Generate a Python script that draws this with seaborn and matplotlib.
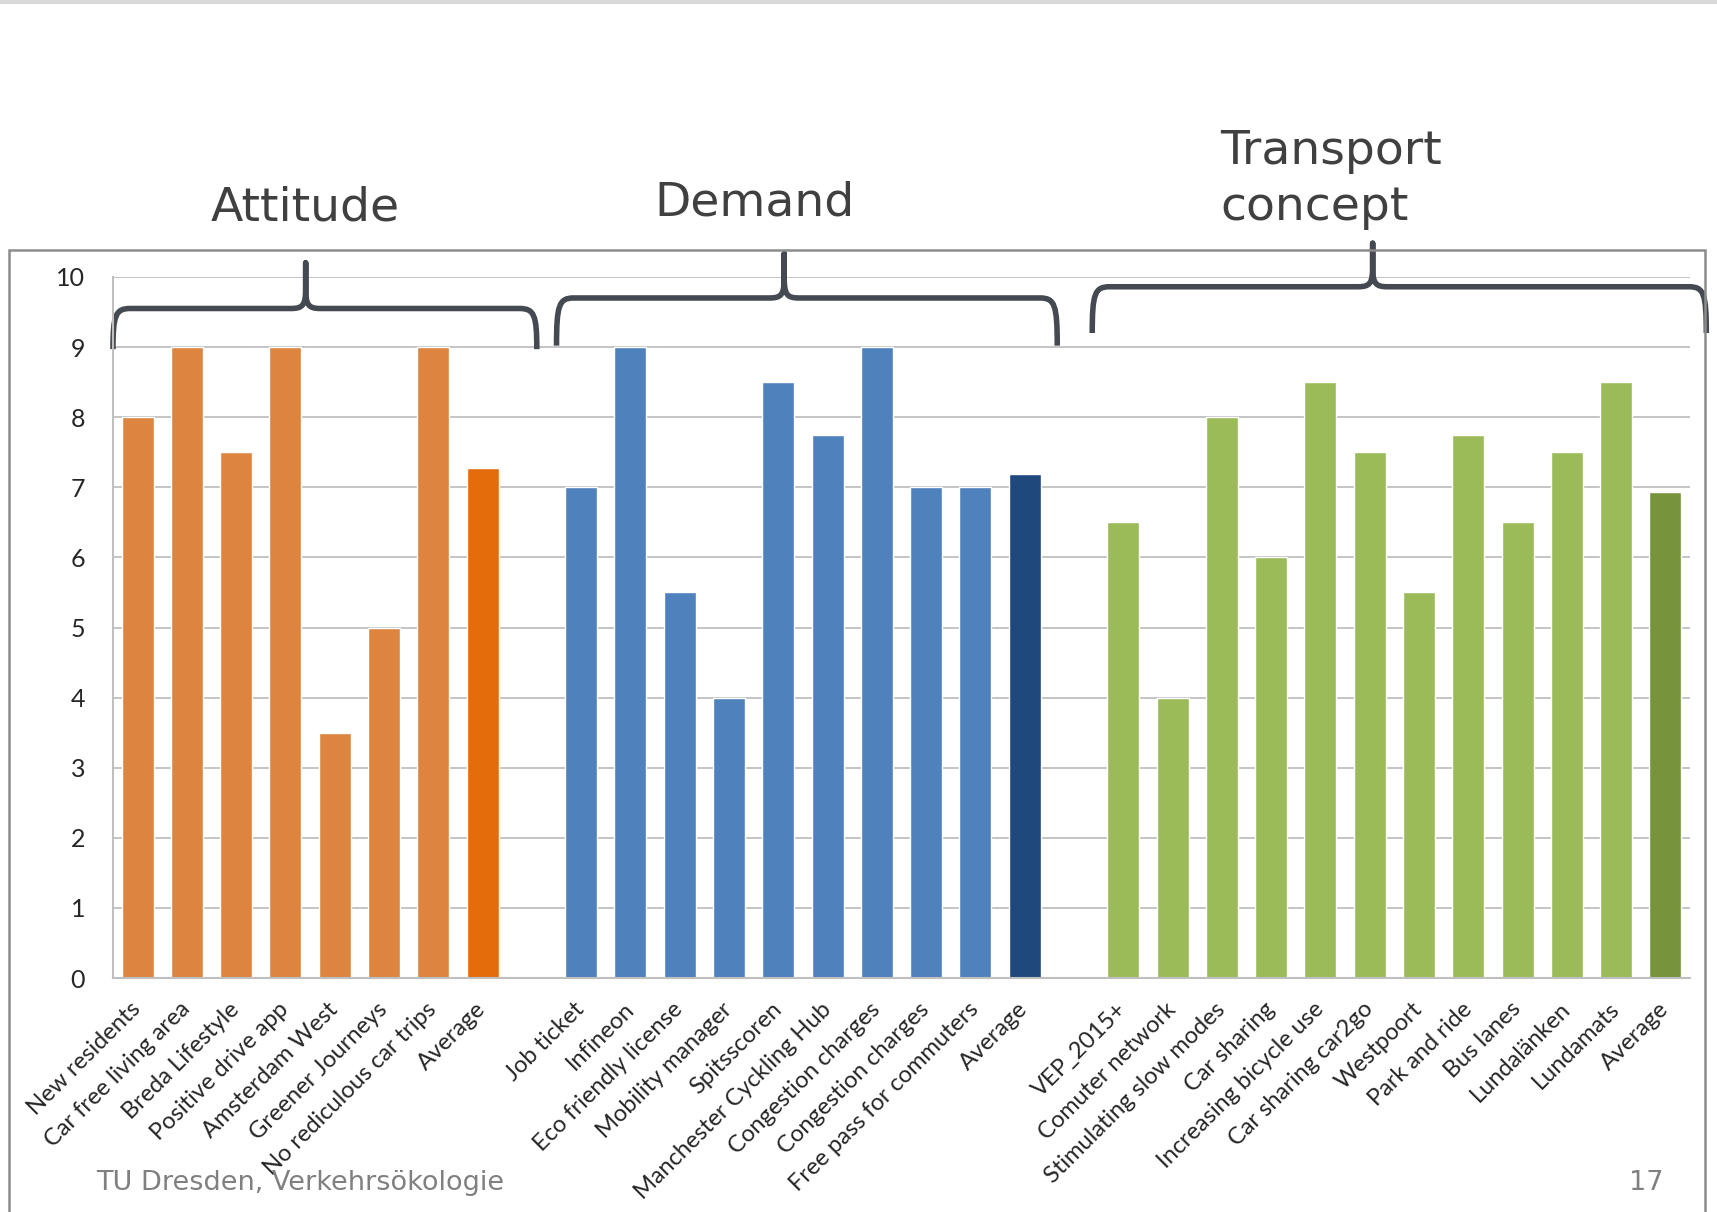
import pandas as pd
import matplotlib.pyplot as plt
import seaborn as sns
from matplotlib.path import Path
from matplotlib.patches import PathPatch, Rectangle

attitude_labels = ['New residents', 'Car free living area', 'Breda Lifestyle', 'Positive drive app',
                   'Amsterdam West', 'Greener Journeys', 'No rediculous car trips', 'Average']
attitude_values = [8, 9, 7.5, 9, 3.5, 5, 9, 7.28]

demand_labels = ['Job ticket', 'Infineon', 'Eco friendly license', 'Mobility manager', 'Spitsscoren',
                 'Manchester Cyckling Hub', 'Congestion charges', 'Congestion charges',
                 'Free pass for commuters', 'Average']
demand_values = [7, 9, 5.5, 4, 8.5, 7.75, 9, 7, 7, 7.19]

transport_labels = ['VEP_2015+', 'Comuter network', 'Stimulating slow modes', 'Car sharing',
                    'Increasing bicycle use', 'Car sharing car2go', 'Westpoort', 'Park and ride',
                    'Bus lanes', 'Lundalänken', 'Lundamats', 'Average']
transport_values = [6.5, 4, 8, 6, 8.5, 7.5, 5.5, 7.75, 6.5, 7.5, 8.5, 6.93]

group_names = ['Attitude', 'Demand', 'Transport\nconcept']
group_colors = ['#DD843F', '#4F81BD', '#9BBB59']
average_colors = ['#E46C0A', '#1F497D', '#77933C']

# build one table, with an empty slot between groups
rows = []
order = []
tick_labels = []
groups = [(attitude_labels, attitude_values), (demand_labels, demand_values),
          (transport_labels, transport_values)]
palette = {}
for g, (labels, values) in enumerate(groups):
    if g > 0:
        order.append('gap%d' % g)
        tick_labels.append('')
    for i, (lab, val) in enumerate(zip(labels, values)):
        key = 'g%d_%d' % (g, i)
        rows.append({'key': key, 'value': val})
        order.append(key)
        tick_labels.append(lab)
        palette[key] = average_colors[g] if lab == 'Average' else group_colors[g]
df = pd.DataFrame(rows)

sns.set_style('white')
plt.rcParams['font.family'] = ['DejaVu Sans']

fig = plt.figure(figsize=(17.17, 12.12), dpi=100)
ax = fig.add_axes([0.0658, 0.193, 0.9185, 0.5785])

sns.barplot(data=df, x='key', y='value', hue='key', order=order, hue_order=list(palette.keys()),
            palette=palette, width=0.65, legend=False, ax=ax, saturation=1)

ax.set_ylim(0, 10)
ax.set_xlim(-0.5, len(order) - 0.5)
ax.set_yticks(range(0, 11))
ax.yaxis.grid(True, color='#BFBFBF', linewidth=1.3)
ax.set_axisbelow(True)
for s in ['top', 'right']:
    ax.spines[s].set_visible(False)
for s in ['left', 'bottom']:
    ax.spines[s].set_color('#BFBFBF')
    ax.spines[s].set_linewidth(1.5)
ax.tick_params(axis='both', length=0)
ax.tick_params(axis='y', pad=20)
ax.set_xticks(range(len(order)))
ax.set_xticklabels(tick_labels, rotation=45, ha='right', va='center', rotation_mode='anchor',
                   fontsize=17, family='Lato')
ax.tick_params(axis='x', pad=20)
for t in ax.get_yticklabels():
    t.set_fontsize(18)
    t.set_family('Lato')
ax.set_xlabel('')
ax.set_ylabel('')


def brace(x0, x1, xm, y_end, y_bar, y_peak):
    r = 0.35
    verts = [(x0, y_end), (x0, y_bar - 0.1), (x0 + 0.05, y_bar), (x0 + r, y_bar),
             (xm - 0.3, y_bar),
             (xm - 0.05, y_bar), (xm, y_bar + 0.05), (xm, y_bar + 0.3),
             (xm, y_peak), (xm, y_bar + 0.3),
             (xm, y_bar + 0.05), (xm + 0.05, y_bar), (xm + 0.3, y_bar),
             (x1 - r, y_bar),
             (x1 - 0.05, y_bar), (x1, y_bar - 0.1), (x1, y_end)]
    codes = [Path.MOVETO, Path.CURVE4, Path.CURVE4, Path.CURVE4,
             Path.LINETO,
             Path.CURVE4, Path.CURVE4, Path.CURVE4,
             Path.LINETO, Path.LINETO,
             Path.CURVE4, Path.CURVE4, Path.CURVE4,
             Path.LINETO,
             Path.CURVE4, Path.CURVE4, Path.CURVE4]
    ax.add_patch(PathPatch(Path(verts, codes), fill=False, edgecolor='#454A52', linewidth=4,
                           clip_on=False, capstyle='butt', joinstyle='round'))


brace(-0.5, 8.1, 3.41, 8.97, 9.55, 10.2)
brace(8.5, 18.66, 13.12, 9.02, 9.7, 10.33)
brace(19.37, 31.83, 25.06, 9.2, 9.86, 10.48)

title_kw = dict(fontsize=34, color='#404040', clip_on=False)
ax.text(3.41, 10.98, group_names[0], ha='center', va='center', **title_kw)
ax.text(12.52, 11.06, group_names[1], ha='center', va='center', **title_kw)
ax.text(21.97, 11.39, group_names[2], ha='left', va='center', linespacing=1.3, **title_kw)

# chart frame and footer
fig.patches.append(Rectangle((9 / 1717, -0.01), 1705 / 1717 - 9 / 1717, 1 - 250 / 1212 + 0.01,
                             transform=fig.transFigure, fill=False, edgecolor='#8C8C8C',
                             linewidth=1.8))
fig.patches.append(Rectangle((0, 1 - 4 / 1212), 1, 4 / 1212, transform=fig.transFigure,
                             facecolor='#D9D9D9', edgecolor='none'))
fig.text(96 / 1717, 1 - 1183 / 1212, 'TU Dresden, Verkehrsökologie', fontsize=19.5, color='#808080',
         va='center', ha='left')
fig.text(1664 / 1717, 1 - 1183 / 1212, '17', fontsize=19.5, color='#808080', va='center', ha='right')

plt.savefig('out.png', dpi=100)
